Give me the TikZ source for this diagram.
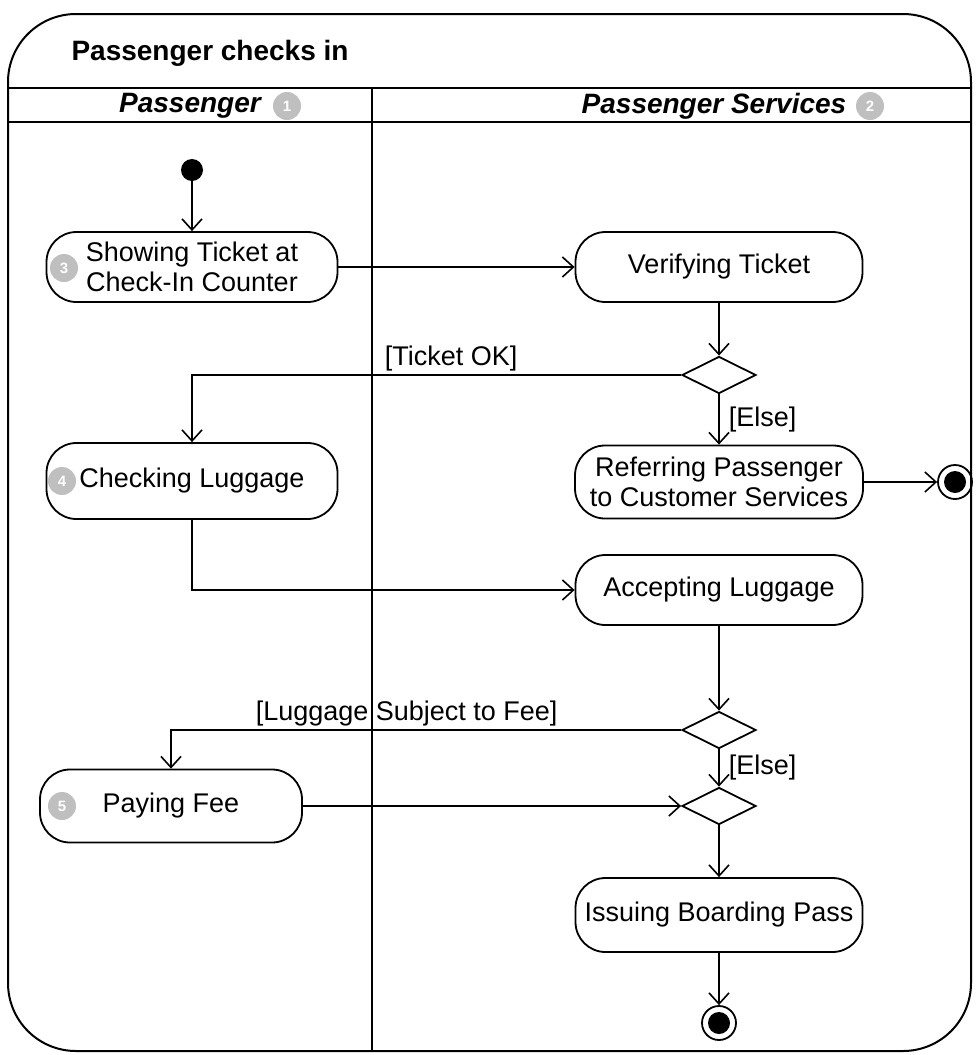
\documentclass[tikz,border=0pt]{standalone}
\usepackage{fontspec}
\setmainfont{Liberation Sans}
\usetikzlibrary{arrows.meta,shapes.geometric}
\begin{document}
\begin{tikzpicture}[x=1pt,y=-1pt,
  every node/.style={font=\fontsize{27}{30}\selectfont},
  act/.style={draw, line width=1.8pt, rectangle, rounded corners=30pt, inner sep=0pt, align=center},
  dec/.style={draw, line width=1.8pt, diamond, aspect=2, minimum width=74pt, minimum height=37pt, inner sep=0pt},
  flow/.style={line width=1.8pt, -{Straight Barb[length=11pt,width=20pt,line width=1.6pt]}},
  plain/.style={line width=1.8pt},
  num/.style={circle, fill=black!25, text=white, inner sep=0pt, minimum size=28pt, font=\fontsize{15}{15}\selectfont\bfseries},
  fin/.style={circle, draw, line width=1.8pt, minimum size=34pt, inner sep=0pt},
  guard/.style={inner sep=3pt}
]
\useasboundingbox (0,0) rectangle (976,1055);
% frame and swimlanes
\draw[line width=2pt, rounded corners=68pt] (8,14) rectangle (971,1051);
\draw[plain] (8,88) -- (971,88);
\draw[plain] (8,122) -- (971,122);
\draw[plain] (372,88) -- (372,1051);
\node[anchor=west, font=\fontsize{28}{30}\selectfont\bfseries] (title) at (68,53) {Passenger checks in};
\node[font=\fontsize{28}{30}\selectfont\bfseries\itshape] (lane1) at (190,106) {Passenger};
\node[font=\fontsize{28}{30}\selectfont\bfseries\itshape] (lane2) at (714,106) {Passenger Services};
\node[num] (n1) at (287,106) {1};
\node[num] (n2) at (870,106) {2};
% nodes
\node[circle, fill, minimum size=22pt, inner sep=0pt] (init) at (192,170) {};
\node[act, minimum width=291pt, minimum height=70pt] (show) at (192,267) {Showing Ticket at\\Check-In Counter};
\node[act, minimum width=287pt, minimum height=70pt] (verify) at (719,267) {Verifying Ticket};
\node[dec] (d1) at (719,375) {};
\node[act, minimum width=291pt, minimum height=76pt] (check) at (192,481) {Checking Luggage};
\node[act, minimum width=288pt, minimum height=73pt] (refer) at (719,482) {Referring Passenger\\to Customer Services};
\node[fin] (fin1) at (955,482) {};
\fill (fin1.center) circle (11pt);
\node[act, minimum width=287pt, minimum height=70pt] (accept) at (719,590) {Accepting Luggage};
\node[dec] (d2) at (719,730) {};
\node[act, minimum width=262pt, minimum height=73pt] (pay) at (171,806) {Paying Fee};
\node[dec] (d3) at (719,806) {};
\node[act, minimum width=287pt, minimum height=74pt] (issue) at (719,915) {Issuing Boarding Pass};
\node[fin] (fin2) at (719,1023) {};
\fill (fin2.center) circle (11pt);
\node[num] (n3) at (64,268) {3};
\node[num] (n4) at (62,481) {4};
\node[num] (n5) at (62,806) {5};
% edges
\draw[flow] (init) -- (show);
\draw[flow] (show) -- (verify);
\draw[flow] (verify) -- (d1);
\draw[flow] (d1.west) -| node[pos=0.235, above, guard] {[Ticket OK]} (check.north);
\draw[flow] (d1) -- node[right, guard, xshift=6pt] {[Else]} (refer);
\draw[flow] (refer) -- (fin1);
\draw[flow] (check.south) |- (accept.west);
\draw[flow] (accept) -- (d2);
\draw[flow] (d2.west) -| node[pos=0.269, above, guard] {[Luggage Subject to Fee]} (pay.north);
\draw[flow] (d2) -- node[right, guard, xshift=6pt] {[Else]} (d3);
\draw[flow] (pay) -- (d3);
\draw[flow] (d3) -- (issue);
\draw[flow] (issue) -- (fin2);
\end{tikzpicture}
\end{document}
